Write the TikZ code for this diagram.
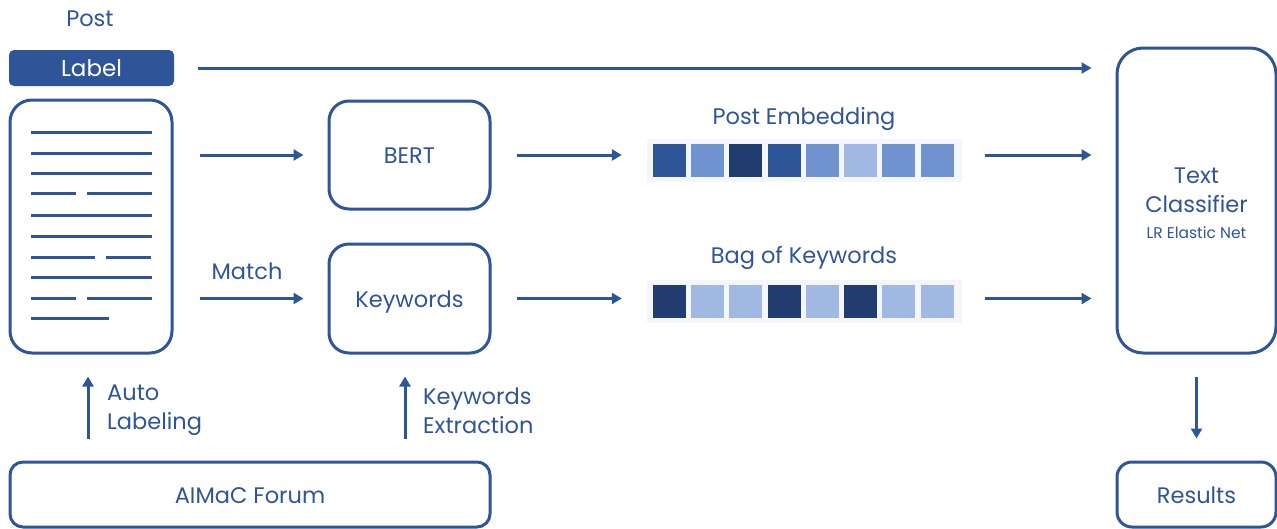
\documentclass[tikz,border=0pt]{standalone}
\usepackage{fontspec}
\setmainfont{Poppins}
\usetikzlibrary{arrows.meta,calc}
\definecolor{mainblue}{RGB}{46,85,151}
\definecolor{darkblue}{RGB}{33,61,112}
\definecolor{midblue}{RGB}{112,147,208}
\definecolor{lightblue}{RGB}{161,184,226}
\definecolor{stripbg}{RGB}{243,247,252}
\tikzset{
  box/.style={draw=mainblue, line width=3pt, rounded corners=20pt, text=mainblue, font=\fontsize{22.5}{26}\selectfont, align=center, inner sep=0pt, text height=21pt, text depth=4pt},
  arr/.style={draw=mainblue, line width=3pt, -{Triangle[length=10pt,width=11pt]}},
  lbl/.style={text=mainblue, font=\fontsize{22.5}{29}\selectfont, inner sep=0pt},
  docline/.style={draw=mainblue, line width=3pt},
  sq/.style={minimum width=34pt, minimum height=34pt, inner sep=0pt, draw=stripbg, line width=0.8pt},
  strip/.style={fill=stripbg, minimum width=315pt, minimum height=43pt, inner sep=0pt}
}
\begin{document}
\begin{tikzpicture}[x=1pt,y=-1pt]
\useasboundingbox (0,0) rectangle (1277,528);
% Post / Label
\node[lbl] (post) at (90,19) {Post};
\node[fill=mainblue, rounded corners=5pt, minimum width=165pt, minimum height=36pt, inner sep=0pt, text=white, font=\fontsize{23}{26}\selectfont] (label) at (91.5,68) {Label};
% document
\node[box, rounded corners=22pt, minimum width=162pt, minimum height=253pt] (doc) at (91,226.5) {};
\draw[docline] (31,132) -- (152,132);
\draw[docline] (31,153) -- (152,153);
\draw[docline] (31,173) -- (152,173);
\draw[docline] (31,193) -- (76,193) (87,193) -- (152,193);
\draw[docline] (31,215) -- (152,215);
\draw[docline] (31,236) -- (152,236);
\draw[docline] (31,257) -- (95,257) (106,257) -- (151,257);
\draw[docline] (31,277) -- (152,277);
\draw[docline] (31,298) -- (76,298) (87,298) -- (152,298);
\draw[docline] (31,318) -- (109,318);
% BERT / Keywords
\node[box, minimum width=161pt, minimum height=108pt] (bert) at (409.5,155) {BERT};
\node[box, minimum width=161pt, minimum height=109pt] (kw) at (409.5,298.5) {Keywords};
% embeddings
\node[strip] (emb) at (804.5,160.5) {};
\node[strip] (bag) at (804.5,301) {};
\node[lbl] (embt) at (804,119) {Post Embedding};
\node[lbl] (bagt) at (804,258) {Bag of Keywords};
\foreach \c [count=\i from 0] in {mainblue,midblue,darkblue,mainblue,midblue,lightblue,midblue,midblue}
  \node[sq, fill=\c] (e\i) at (669+\i*38.3,160) {};
\foreach \c [count=\i from 0] in {darkblue,lightblue,lightblue,darkblue,lightblue,darkblue,lightblue,lightblue}
  \node[sq, fill=\c] (b\i) at (669+\i*38.3,301) {};
% classifier
\node[box, rounded corners=26pt, minimum width=159pt, minimum height=305pt] (cls) at (1196.5,200.5) {};
\node[lbl, align=center, font=\fontsize{22.5}{29}\selectfont] (clst) at (1196.5,190) {Text\\Classifier};
\node[lbl, font=\fontsize{15.5}{18}\selectfont] (clss) at (1196.5,233) {LR Elastic Net};
\node[box, rounded corners=15pt, minimum width=159pt, minimum height=65pt] (res) at (1196.5,494.5) {Results};
% forum
\node[box, rounded corners=13pt, minimum width=480pt, minimum height=65pt] (forum) at (250,494.5) {AIMaC Forum};
% arrows
\draw[arr, shorten <=24pt, shorten >=24pt] (label.east) -- (cls.west |- label.east);
\draw[arr, shorten <=26pt, shorten >=24pt] (doc.east |- bert.west) -- (bert.west);
\draw[arr, shorten <=26pt, shorten >=24pt] (doc.east |- kw.west) -- (kw.west);
\node[lbl] (match) at (247,271) {Match};
\draw[arr, shorten <=25pt, shorten >=25pt] (bert.east) -- (emb.west |- bert.east);
\draw[arr, shorten <=25pt, shorten >=25pt] (kw.east) -- (bag.west |- kw.east);
\draw[arr, shorten <=23pt, shorten >=24pt] (emb.east |- bert.east) -- (cls.west |- bert.east);
\draw[arr, shorten <=23pt, shorten >=24pt] (bag.east |- kw.east) -- (cls.west |- kw.east);
\draw[arr, shorten <=22pt, shorten >=22pt] (cls.south) -- (res.north);
\draw[arr, shorten <=22pt, shorten >=22pt] (forum.north -| 88,0) -- (doc.south -| 88,0);
\draw[arr, shorten <=22pt, shorten >=22pt] (forum.north -| 405,0) -- (kw.south -| 405,0);
\node[lbl, anchor=west, align=left] (autol) at (107,410.5) {Auto\\Labeling};
\node[lbl, anchor=west, align=left] (kwel) at (423,410.5) {Keywords\\Extraction};
\end{tikzpicture}
\end{document}
